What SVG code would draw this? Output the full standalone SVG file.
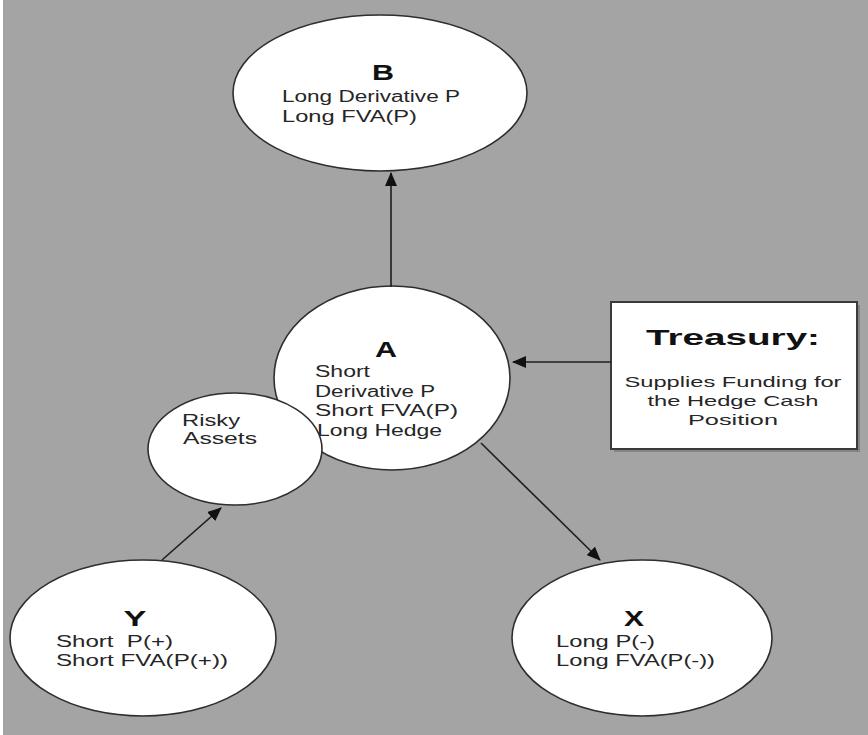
<svg xmlns="http://www.w3.org/2000/svg" width="868" height="735" viewBox="0 0 868 735">
<style>
.bg{fill:#a4a4a4}
.node{fill:#ffffff;stroke:#2e2e2e;stroke-width:1.6}
.t{font-family:"Liberation Sans",Arial,sans-serif;font-size:16px;fill:#262626}
.h{font-family:"Liberation Sans",Arial,sans-serif;font-size:22px;font-weight:bold;fill:#111;text-anchor:middle}
.tr{font-family:"Liberation Sans",Arial,sans-serif;font-size:14.5px;fill:#262626;text-anchor:middle}
.conn{stroke:#1e1e1e;stroke-width:1.6;fill:none;marker-end:url(#ah)}
</style>
<defs>
<marker id="ah" markerUnits="userSpaceOnUse" markerWidth="14" markerHeight="12" refX="13" refY="6" orient="auto">
<path d="M0,0 L14,6 L0,12 z" fill="#111"/>
</marker>
</defs>
<rect class="bg" x="0" y="0" width="868" height="735"/>
<rect x="0" y="0" width="3" height="735" fill="#ffffff"/>

<g id="node-B">
<ellipse class="node" cx="380" cy="93" rx="147" ry="78"/>
<text class="h" x="383" y="80" textLength="22" lengthAdjust="spacingAndGlyphs">B</text>
<text class="t" x="282" y="102" textLength="178" lengthAdjust="spacingAndGlyphs">Long Derivative P</text>
<text class="t" x="282" y="122" textLength="135" lengthAdjust="spacingAndGlyphs">Long FVA(P)</text>
</g>

<g id="node-A">
<ellipse class="node" cx="392" cy="378" rx="118" ry="92"/>
<text class="h" x="386" y="357" textLength="22" lengthAdjust="spacingAndGlyphs">A</text>
<text class="t" x="315" y="377" textLength="55" lengthAdjust="spacingAndGlyphs">Short</text>
<text class="t" x="315" y="397" textLength="120" lengthAdjust="spacingAndGlyphs">Derivative P</text>
<text class="t" x="315" y="416" textLength="143" lengthAdjust="spacingAndGlyphs">Short FVA(P)</text>
<text class="t" x="317" y="436" textLength="125" lengthAdjust="spacingAndGlyphs">Long Hedge</text>
</g>

<g id="node-Risky">
<ellipse class="node" cx="235" cy="449" rx="87" ry="56"/>
<text class="t" x="182" y="426" textLength="58" lengthAdjust="spacingAndGlyphs">Risky</text>
<text class="t" x="183" y="444" textLength="74" lengthAdjust="spacingAndGlyphs">Assets</text>
</g>

<g id="node-Treasury">
<rect x="614" y="305" width="246" height="147" fill="#6f6f6f" opacity="0.6"/>
<rect x="611" y="302" width="246" height="147" fill="#ffffff" stroke="#3a3a3a" stroke-width="2"/>
<text class="h" x="733" y="345" textLength="174" lengthAdjust="spacingAndGlyphs">Treasury:</text>
<text class="tr" x="733" y="387" textLength="217" lengthAdjust="spacingAndGlyphs">Supplies Funding for</text>
<text class="tr" x="733" y="406" textLength="171" lengthAdjust="spacingAndGlyphs">the Hedge Cash</text>
<text class="tr" x="733" y="425" textLength="90" lengthAdjust="spacingAndGlyphs">Position</text>
</g>

<g id="node-Y">
<ellipse class="node" cx="143" cy="638" rx="133" ry="78"/>
<text class="h" x="135" y="626" textLength="23" lengthAdjust="spacingAndGlyphs">Y</text>
<text class="t" x="56" y="647" textLength="117" lengthAdjust="spacingAndGlyphs" xml:space="preserve">Short  P(+)</text>
<text class="t" x="56" y="666" textLength="172" lengthAdjust="spacingAndGlyphs">Short FVA(P(+))</text>
</g>

<g id="node-X">
<ellipse class="node" cx="642" cy="638" rx="130" ry="78"/>
<text class="h" x="634" y="626" textLength="20" lengthAdjust="spacingAndGlyphs">X</text>
<text class="t" x="556" y="647" textLength="99" lengthAdjust="spacingAndGlyphs">Long P(-)</text>
<text class="t" x="556" y="666" textLength="159" lengthAdjust="spacingAndGlyphs">Long FVA(P(-))</text>
</g>

<g id="connectors">
<line class="conn" x1="391" y1="287" x2="391" y2="173"/>
<line class="conn" x1="611" y1="362" x2="513" y2="362"/>
<line class="conn" x1="481" y1="443" x2="600" y2="560"/>
<line class="conn" x1="162" y1="560" x2="221" y2="508"/>
</g>
</svg>
